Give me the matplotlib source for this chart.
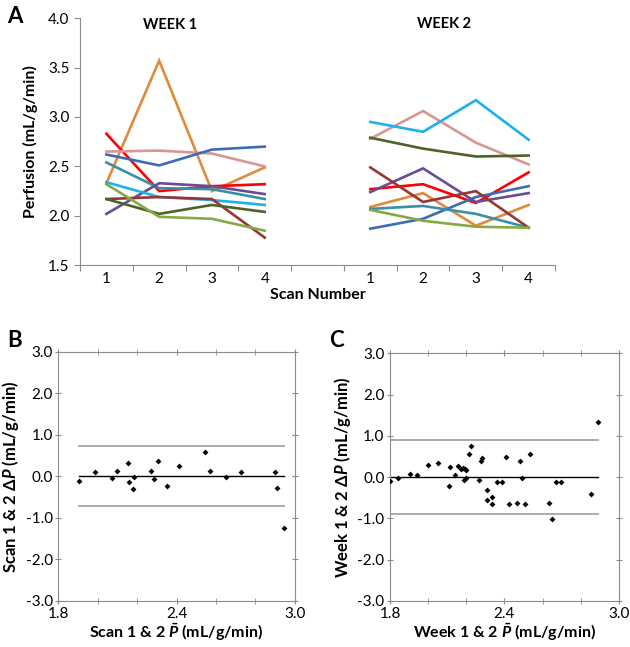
import numpy as np
import matplotlib
matplotlib.use("Agg")
import matplotlib.pyplot as plt
from matplotlib.ticker import MultipleLocator, FixedLocator

plt.rcParams['font.family'] = ['Lato', 'DejaVu Sans']
plt.rcParams['mathtext.fontset'] = 'custom'
plt.rcParams['mathtext.rm'] = 'Lato:bold'
plt.rcParams['mathtext.it'] = 'Lato:bold:italic'
plt.rcParams['mathtext.bf'] = 'Lato:bold'

# panel A: perfusion per subject, scans 1-4
scan_labels = ["1", "2", "3", "4", "", "1", "2", "3", "4"]
colors = ["#E08A3C", "#FF0000", "#D99694", "#3C6DB4", "#3A8FA8",
          "#6A4C93", "#1FB0EE", "#953735", "#4F6228", "#86A845"]
week1 = [
    [2.33, 3.57, 2.25, 2.49],   # orange
    [2.83, 2.25, 2.30, 2.32],   # red
    [2.65, 2.66, 2.63, 2.50],   # pink
    [2.62, 2.51, 2.67, 2.70],   # blue
    [2.54, 2.28, 2.27, 2.17],   # teal
    [2.02, 2.33, 2.30, 2.22],   # purple
    [2.34, 2.19, 2.16, 2.11],   # sky
    [2.17, 2.19, 2.17, 1.78],   # dark red
    [2.17, 2.02, 2.11, 2.04],   # dark green
    [2.32, 1.99, 1.97, 1.85],   # light green
]
week2 = [
    [2.09, 2.23, 1.90, 2.11],
    [2.27, 2.32, 2.13, 2.44],
    [2.78, 3.06, 2.74, 2.52],
    [1.87, 1.97, 2.19, 2.30],
    [2.07, 2.10, 2.02, 1.88],
    [2.24, 2.48, 2.14, 2.23],
    [2.95, 2.85, 3.17, 2.77],
    [2.49, 2.14, 2.25, 1.88],
    [2.79, 2.68, 2.60, 2.61],
    [2.06, 1.95, 1.89, 1.88],
]

# panel B: scan 1 & 2 Bland-Altman
b_mean = [1.905, 1.988, 2.072, 2.099, 2.155, 2.157, 2.182, 2.179, 2.268, 2.287,
          2.307, 2.353, 2.414, 2.542, 2.568, 2.652, 2.728, 2.899, 2.911, 2.945]
b_diff = [-0.10, 0.10, -0.03, 0.14, 0.33, -0.14, -0.02, -0.31, 0.14, -0.06,
          0.37, -0.23, 0.26, 0.58, 0.12, -0.02, 0.11, 0.11, -0.29, -1.25]
b_loa = 0.72

# panel C: week 1 & 2 Bland-Altman
c_mean = [1.798, 1.844, 1.906, 1.943, 2.001, 2.052, 2.111, 2.117, 2.143, 2.159,
          2.171, 2.183, 2.193, 2.198, 2.190, 2.197, 2.216, 2.225, 2.265, 2.275,
          2.281, 2.310, 2.310, 2.336, 2.336, 2.362, 2.385, 2.410, 2.424, 2.466,
          2.483, 2.494, 2.510, 2.534, 2.635, 2.649, 2.672, 2.696, 2.853, 2.892]
c_diff = [-0.09, -0.03, 0.08, 0.05, 0.30, 0.35, -0.22, 0.25, 0.06, 0.27,
          0.19, 0.22, 0.19, 0.17, -0.08, -0.02, 0.55, 0.76, -0.08, 0.38,
          0.47, -0.32, -0.56, -0.48, -0.66, -0.11, -0.13, 0.49, -0.66, -0.62,
          0.40, -0.02, -0.66, 0.57, -0.62, -1.01, -0.12, -0.12, -0.41, 1.33]
c_loa = 0.90

grey = "#8C8C8C"
fig = plt.figure(figsize=(6.3, 6.47), dpi=100)

# ---- A ----
axA = fig.add_axes([0.127, 0.590, 0.754, 0.382])
x1 = np.arange(4)
x2 = np.arange(5, 9)
for c, w1, w2 in zip(colors, week1, week2):
    axA.plot(x1, w1, color=c, lw=1.9, solid_joinstyle="miter")
    axA.plot(x2, w2, color=c, lw=1.9, solid_joinstyle="miter")
axA.set_xlim(-0.5, 8.5)
axA.set_ylim(1.5, 4.0)
axA.yaxis.set_major_locator(MultipleLocator(0.5))
axA.yaxis.set_major_formatter(plt.FormatStrFormatter("%.1f"))
axA.xaxis.set_major_locator(FixedLocator(np.arange(-0.5, 9, 1)))
axA.xaxis.set_major_formatter(plt.NullFormatter())
axA.xaxis.set_minor_locator(FixedLocator(np.arange(9)))
axA.set_xticklabels(scan_labels, minor=True)
axA.tick_params(axis="x", which="minor", length=0, labelsize=11, pad=5)
axA.tick_params(axis="x", which="major", length=4, color=grey)
axA.tick_params(axis="y", length=4, color=grey, labelsize=11)
for s in ["top", "right"]:
    axA.spines[s].set_visible(False)
for s in ["left", "bottom"]:
    axA.spines[s].set_color(grey)
axA.set_ylabel("Perfusion (mL/g/min)", fontsize=11.5, fontweight="bold", labelpad=7)
axA.set_xlabel("Scan Number", fontsize=11.5, fontweight="bold", labelpad=1)
axA.text(1.2, 3.93, "WEEK 1", ha="center", va="center", fontsize=10.5, fontweight="bold")
axA.text(6.4, 3.94, "WEEK 2", ha="center", va="center", fontsize=10.5, fontweight="bold")
fig.text(0.012, 0.99, "A", fontsize=16, fontweight="bold", va="top")


def bland(ax, xm, dy, loa, xlab, ylab):
    lo, hi = min(xm), max(xm)
    ax.plot([lo, hi], [loa, loa], color="#A6A6A6", lw=1.3)
    ax.plot([lo, hi], [-loa, -loa], color="#A6A6A6", lw=1.3)
    ax.plot([lo, hi], [0, 0], color="black", lw=1.0)
    ax.scatter(xm, dy, marker="D", s=9, color="black", zorder=3, linewidths=0)
    ax.set_xlim(1.8, 3.0)
    ax.set_ylim(-3, 3)
    ax.xaxis.set_major_locator(FixedLocator([1.8, 2.4, 3.0]))
    ax.xaxis.set_minor_locator(FixedLocator([2.0, 2.2, 2.6, 2.8]))
    ax.yaxis.set_major_locator(MultipleLocator(1.0))
    ax.xaxis.set_major_formatter(plt.FormatStrFormatter("%.1f"))
    ax.yaxis.set_major_formatter(plt.FormatStrFormatter("%.1f"))
    ax.tick_params(which="both", direction="inout", length=4, color=grey,
                   top=True, right=True, labelsize=11, pad=2)
    for s in ax.spines.values():
        s.set_color(grey)
    ax.set_xlabel(xlab, fontsize=11.5, fontweight="bold", labelpad=1)
    ax.set_ylabel(ylab, fontsize=12, fontweight="bold", labelpad=3)


axB = fig.add_axes([0.0926, 0.0711, 0.3754, 0.3853])
bland(axB, b_mean, b_diff, b_loa, r"Scan 1 & 2 $\bar{P}$ (mL/g/min)",
      r"Scan 1 & 2 $\Delta P$ (mL/g/min)")
fig.text(0.012, 0.49, "B", fontsize=16, fontweight="bold", va="top")

axC = fig.add_axes([0.619, 0.0711, 0.3635, 0.3829])
bland(axC, c_mean, c_diff, c_loa, r"Week 1 & 2 $\bar{P}$ (mL/g/min)",
      r"Week 1 & 2 $\Delta P$ (mL/g/min)")
fig.text(0.522, 0.49, "C", fontsize=16, fontweight="bold", va="top")

fig.savefig("out.png", dpi=100)
